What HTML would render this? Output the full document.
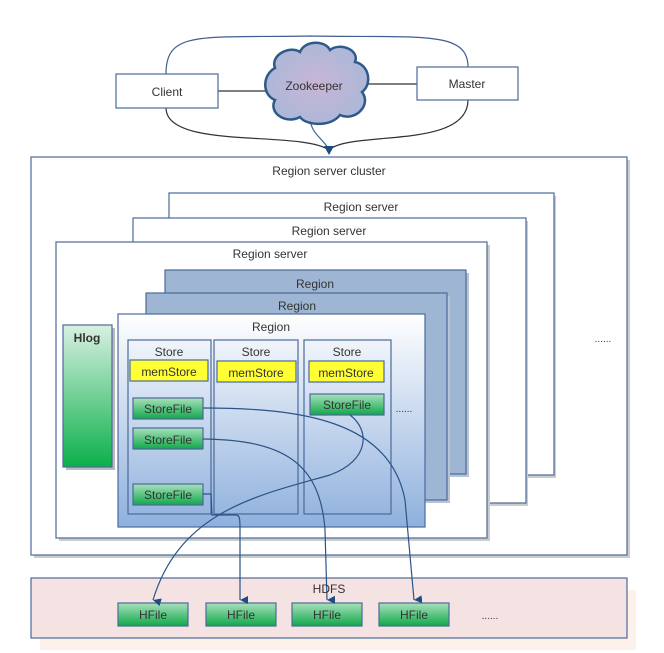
<!DOCTYPE html>
<html><head><meta charset="utf-8"><style>
html,body{margin:0;padding:0;background:#fff}
svg{display:block}
text{font-family:"Liberation Sans",sans-serif;fill:#333}
</style></head><body>
<svg width="664" height="653" viewBox="0 0 664 653" xmlns="http://www.w3.org/2000/svg">
<defs>
<linearGradient id="rg" x1="0" y1="0" x2="0" y2="1"><stop offset="0" stop-color="#ffffff"/><stop offset="1" stop-color="#8fb0dd"/></linearGradient>
<linearGradient id="gr" x1="0" y1="0" x2="0" y2="1"><stop offset="0" stop-color="#d9f0e2"/><stop offset="1" stop-color="#0bb04a"/></linearGradient>
<linearGradient id="sf" x1="0" y1="0" x2="0" y2="1"><stop offset="0" stop-color="#a8e0bc"/><stop offset="1" stop-color="#11a84a"/></linearGradient>
<radialGradient id="cl" cx="0.5" cy="0.5" r="0.6"><stop offset="0" stop-color="#c8b5d6"/><stop offset="1" stop-color="#a8b8d8"/></radialGradient>
<marker id="ar" markerWidth="10" markerHeight="10" refX="5" refY="8" orient="auto" markerUnits="userSpaceOnUse"><path d="M1,0 L5,8 L9,0 Z" fill="#1f4c80"/></marker>
<marker id="ad" viewBox="0 0 10 10" markerWidth="10" markerHeight="10" refX="9" refY="5" orient="auto" markerUnits="userSpaceOnUse"><path d="M0,1 L9,5 L0,9 Z" fill="#1f4c80"/></marker>
</defs>
<g stroke="#4a6a9a" stroke-width="1.2">
<!-- top connectors -->
<path d="M166,74 C166,30 200,38 310,36 C420,38 468,30 468,67" fill="none" stroke="#3e5f8f"/>
<path d="M166,108 C166,150 300,130 329,150 C350,130 468,150 468,100" fill="none" stroke="#333"/>
<path d="M310,120 C312,135 325,140 329,150" fill="none" stroke="#3e6a9a"/>
<path d="M324,146 L329,155 L334,146Z" fill="#1f4c80" stroke="none"/>
<line x1="218" y1="91" x2="270" y2="91" stroke="#333"/>
<line x1="367" y1="84" x2="417" y2="84" stroke="#333"/>
<rect x="116" y="74" width="102" height="34" fill="#fff"/>
<rect x="417" y="67" width="101" height="33" fill="#fff"/>
<path d="M275,68 C270,55 290,45 300,52 C305,40 325,40 330,50 C340,42 360,50 355,62 C370,65 372,85 362,92 C372,105 355,122 340,115 C330,128 305,125 300,117 C285,125 268,112 275,100 C262,95 262,75 275,68Z" fill="url(#cl)" stroke="#2e5a8a" stroke-width="2.5"/>
<!-- cluster -->
<rect x="34" y="160" width="596" height="398" fill="#ccc" stroke="none"/>
<rect x="31" y="157" width="596" height="398" fill="#fff"/>
<rect x="172" y="196" width="384" height="282" fill="#ccc" stroke="none"/>
<rect x="169" y="193" width="385" height="282" fill="#fff"/>
<rect x="136" y="221" width="392" height="285" fill="#ccc" stroke="none"/>
<rect x="133" y="218" width="393" height="285" fill="#fff"/>
<rect x="59" y="245" width="431" height="296" fill="#ccc" stroke="none"/>
<rect x="56" y="242" width="431" height="296" fill="#fff"/>
<rect x="168" y="273" width="301" height="204" fill="#b8c4d4" stroke="none"/>
<rect x="165" y="270" width="301" height="204" fill="#9eb6d4"/>
<rect x="149" y="296" width="301" height="207" fill="#b8c4d4" stroke="none"/>
<rect x="146" y="293" width="301" height="207" fill="#9eb6d4"/>
<rect x="118" y="314" width="307" height="213" fill="url(#rg)"/>
<rect x="66" y="328" width="49" height="142" fill="#bbb" stroke="none"/>
<rect x="63" y="325" width="49" height="142" fill="url(#gr)"/>
<rect x="128" y="340" width="83" height="174" fill="none"/>
<rect x="214" y="340" width="84" height="174" fill="none"/>
<rect x="304" y="340" width="87" height="174" fill="none"/>
<rect x="130" y="360" width="78" height="21" fill="#ffff33"/>
<rect x="217" y="361" width="79" height="21" fill="#ffff33"/>
<rect x="309" y="361" width="75" height="21" fill="#ffff33"/>
<rect x="133" y="398" width="70" height="21" fill="url(#sf)"/>
<rect x="133" y="428" width="70" height="21" fill="url(#sf)"/>
<rect x="133" y="484" width="70" height="21" fill="url(#sf)"/>
<rect x="310" y="394" width="74" height="21" fill="url(#sf)"/>
<!-- HDFS -->
<rect x="40" y="590" width="596" height="60" fill="#fdf1ec" stroke="none"/>
<rect x="31" y="578" width="596" height="60" fill="#f5e2e2"/>
<rect x="118" y="603" width="70" height="23" fill="url(#sf)"/>
<rect x="206" y="603" width="70" height="23" fill="url(#sf)"/>
<rect x="292" y="603" width="70" height="23" fill="url(#sf)"/>
<rect x="379" y="603" width="70" height="23" fill="url(#sf)"/>
</g>
<g fill="none" stroke="#2a5486" stroke-width="1.2">
<path d="M203,408 C300,408 390,420 405,500 L414,600" marker-end="url(#ar)"/>
<path d="M203,439 C280,440 320,460 325,530 L327,600" marker-end="url(#ar)"/>
<path d="M203,494 L211,494 L212,515 L236,515 C240,515 240,520 240,530 L240,600" marker-end="url(#ar)"/>
<path d="M350,415 C370,430 370,460 330,475 C260,495 180,510 153,600" marker-end="url(#ar)"/>
</g>
<g font-size="12" text-anchor="middle">
<text x="167" y="96">Client</text>
<text x="467" y="88">Master</text>
<text x="314" y="90" fill="#444">Zookeeper</text>
<text x="329" y="175">Region server cluster</text>
<text x="361" y="211">Region server</text>
<text x="329" y="235">Region server</text>
<text x="270" y="258">Region server</text>
<text x="315" y="288">Region</text>
<text x="297" y="310">Region</text>
<text x="271" y="331">Region</text>
<text x="87" y="342" font-weight="bold" fill="#444">Hlog</text>
<text x="169" y="356">Store</text>
<text x="256" y="356">Store</text>
<text x="347" y="356">Store</text>
<text x="169" y="376">memStore</text>
<text x="256" y="377">memStore</text>
<text x="346" y="377">memStore</text>
<text x="168" y="413">StoreFile</text>
<text x="168" y="444">StoreFile</text>
<text x="168" y="499">StoreFile</text>
<text x="347" y="409">StoreFile</text>
<text x="404" y="412" font-size="10">......</text>
<text x="603" y="342" font-size="10">......</text>
<text x="329" y="593" fill="#555">HDFS</text>
<text x="153" y="619">HFile</text>
<text x="241" y="619">HFile</text>
<text x="327" y="619">HFile</text>
<text x="414" y="619">HFile</text>
<text x="490" y="619" font-size="10">......</text>
</g>
</svg>
</body></html>
